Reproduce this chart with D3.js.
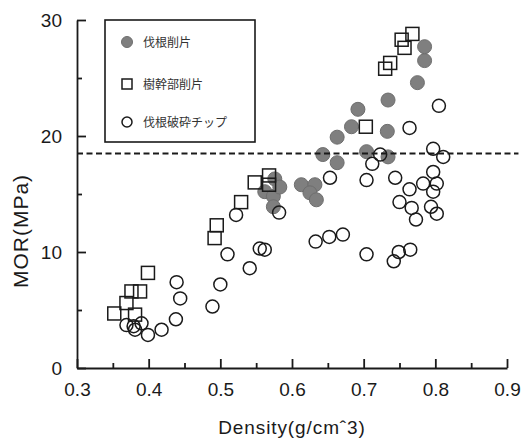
<!DOCTYPE html>
<html>
<head>
<meta charset="utf-8">
<script src="https://cdn.jsdelivr.net/npm/d3@7"></script>
<style>
  html, body { margin: 0; padding: 0; background: #fff; }
  svg { display: block; }
</style>
</head>
<body>
<svg id="chart" width="526" height="438"></svg>
<script>
// ---- data ----
const seriesNames = ["伐根削片", "樹幹部削片", "伐根破砕チップ"];

// 伐根削片 (filled grey circles): [density, MOR]
const stumpFlakes = [
  [0.562,15.2],[0.574,14.8],[0.574,13.9],[0.576,16.3],[0.583,15.6],
  [0.613,15.8],[0.632,15.8],[0.625,15.1],[0.634,14.5],[0.643,18.4],
  [0.663,17.7],[0.663,19.9],[0.683,20.8],[0.692,22.3],[0.704,18.65],
  [0.733,20.4],[0.734,18.2],[0.734,23.1],[0.775,24.6],[0.785,26.5],
  [0.785,27.7]
];

// 樹幹部削片 (open squares)
const trunkFlakes = [
  [0.352,4.7],[0.369,5.6],[0.376,6.6],[0.388,6.6],[0.381,4.6],
  [0.399,8.2],[0.492,11.2],[0.495,12.3],[0.529,14.3],[0.548,16.0],
  [0.568,16.6],[0.568,15.8],[0.703,20.8],[0.730,25.8],[0.737,26.3],
  [0.753,28.3],[0.757,27.6],[0.768,28.8]
];

// 伐根破砕チップ (open circles)
const stumpChips = [
  [0.369,3.7],[0.379,3.6],[0.390,3.85],[0.381,3.3],[0.399,2.85],
  [0.418,3.3],[0.438,4.2],[0.444,6.0],[0.439,7.4],[0.489,5.3],
  [0.500,7.2],[0.510,9.8],[0.522,13.2],[0.541,8.6],[0.555,10.3],
  [0.562,10.2],[0.582,13.4],[0.633,10.9],[0.652,11.3],[0.671,11.5],
  [0.653,16.4],[0.704,9.8],[0.704,16.2],[0.712,17.6],[0.723,18.4],
  [0.742,9.2],[0.749,10.0],[0.765,10.2],[0.744,16.4],[0.750,14.3],
  [0.764,15.4],[0.767,13.8],[0.773,12.8],[0.764,20.7],[0.783,15.9],
  [0.794,13.9],[0.797,15.2],[0.797,16.9],[0.797,18.9],[0.802,15.9],
  [0.802,13.3],[0.805,22.6],[0.811,18.2]
];

const referenceLine = [18.5];
const xTicks = [0.3, 0.4, 0.5, 0.6, 0.7, 0.8, 0.9];
const xMinorTicks = [0.35, 0.45, 0.55, 0.65, 0.75, 0.85];
const yTicks = [0, 10, 20, 30];
const yMinorTicks = [5, 15, 25];
const xTitle = "Density(g/cmˆ3)";
const yTitle = "MOR(MPa)";

// ---- drawing ----
const svg = d3.select("#chart");
const x = d3.scaleLinear().domain([0.3, 0.9]).range([77, 507]);
const y = d3.scaleLinear().domain([0, 30]).range([368, 20]);
const ink = "#1a1a1a";
const tickFont = "Liberation Sans, Arial, sans-serif";

// markers
svg.append("g").selectAll("circle").data(stumpFlakes).join("circle")
  .attr("cx", d => x(d[0])).attr("cy", d => y(d[1])).attr("r", 7)
  .attr("fill", "#7f7f7f").attr("stroke", "#6e6e6e").attr("stroke-width", 1);

svg.append("g").selectAll("rect").data(trunkFlakes).join("rect")
  .attr("x", d => x(d[0]) - 6.5).attr("y", d => y(d[1]) - 6.5)
  .attr("width", 13).attr("height", 13)
  .attr("fill", "none").attr("stroke", ink).attr("stroke-width", 1.5);

svg.append("g").selectAll("circle").data(stumpChips).join("circle")
  .attr("cx", d => x(d[0])).attr("cy", d => y(d[1])).attr("r", 6.5)
  .attr("fill", "none").attr("stroke", ink).attr("stroke-width", 1.5);

// dashed reference line
svg.append("g").selectAll("line").data(referenceLine).join("line")
  .attr("x1", x(0.3)).attr("x2", x(0.916))
  .attr("y1", d => y(d)).attr("y2", d => y(d))
  .attr("stroke", ink).attr("stroke-width", 2)
  .attr("stroke-dasharray", "6,3.5");

// axes
svg.append("g").attr("transform", `translate(0,${y(0)})`)
  .call(d3.axisBottom(x).tickValues(xTicks).tickSize(-9).tickSizeOuter(0)
    .tickPadding(15).tickFormat(d3.format(".1f")));
const xMinor = svg.append("g").attr("transform", `translate(0,${y(0)})`)
  .call(d3.axisBottom(x).tickValues(xMinorTicks).tickSize(-5).tickFormat(""));
xMinor.select(".domain").remove();

svg.append("g").attr("transform", `translate(${x(0.3)},0)`)
  .call(d3.axisLeft(y).tickValues(yTicks).tickSize(-9).tickSizeOuter(0)
    .tickPadding(15).tickFormat(d3.format("d")));
const yMinor = svg.append("g").attr("transform", `translate(${x(0.3)},0)`)
  .call(d3.axisLeft(y).tickValues(yMinorTicks).tickSize(-5).tickFormat(""));
yMinor.select(".domain").remove();

svg.selectAll(".domain, .tick line").attr("stroke", ink).attr("stroke-width", 1.8);
svg.selectAll(".tick text").attr("font-family", tickFont).attr("font-size", 19).attr("fill", ink);

// axis titles
svg.append("text").attr("x", (x(0.3) + x(0.9)) / 2).attr("y", 434)
  .attr("text-anchor", "middle").attr("font-family", tickFont)
  .attr("font-size", 19).attr("letter-spacing", 0.9).attr("fill", ink).text(xTitle);
svg.append("text").attr("transform", `translate(28,231) rotate(-90)`)
  .attr("text-anchor", "middle").attr("font-family", tickFont)
  .attr("font-size", 21).attr("letter-spacing", 1).attr("fill", ink).text(yTitle);

// legend
const legend = svg.append("g");
legend.append("rect").attr("x", 105).attr("y", 20).attr("width", 150).attr("height", 122)
  .attr("fill", "#fff").attr("stroke", ink).attr("stroke-width", 1.6);
const rowsY = [42, 84, 122];
const item = legend.selectAll("g.item").data(seriesNames).join("g")
  .attr("class", "item").attr("transform", (d, i) => `translate(127,${rowsY[i]})`);
item.each(function(d, i) {
  const g = d3.select(this);
  if (i === 0) g.append("circle").attr("r", 5.5).attr("fill", "#7f7f7f").attr("stroke", "#6e6e6e");
  if (i === 1) g.append("rect").attr("x", -5).attr("y", -5).attr("width", 10).attr("height", 10)
    .attr("fill", "none").attr("stroke", ink).attr("stroke-width", 1.5);
  if (i === 2) g.append("circle").attr("r", 5).attr("fill", "none").attr("stroke", ink).attr("stroke-width", 1.5);
  g.append("text").attr("x", 16).attr("y", 4.5)
    .attr("font-family", "Noto Sans CJK JP, sans-serif").attr("font-size", 12)
    .attr("fill", "#333").text(d);
});
</script>
</body>
</html>
